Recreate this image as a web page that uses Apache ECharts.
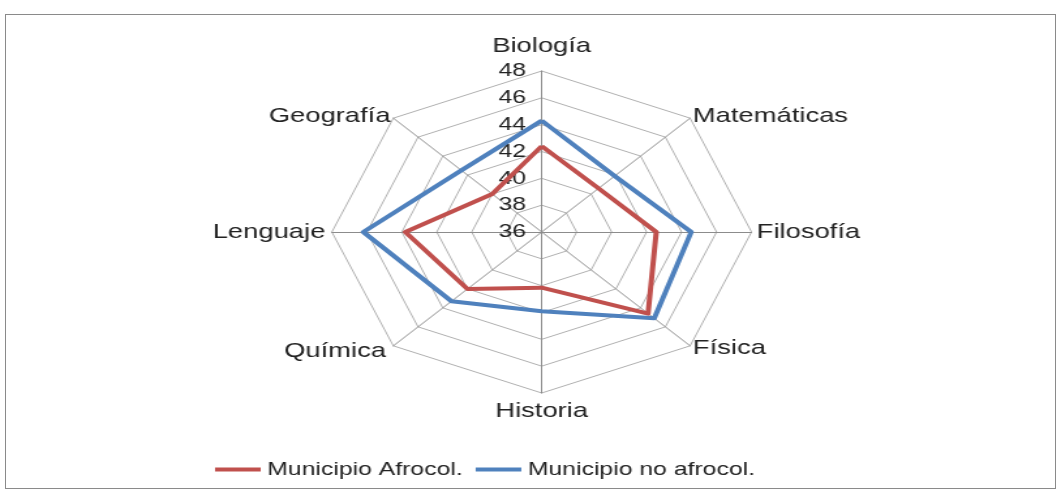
<!DOCTYPE html>
<html><head><meta charset="utf-8">
<script src="https://cdn.jsdelivr.net/npm/echarts@6/dist/echarts.min.js"></script>
<style>
html,body{margin:0;padding:0;background:#fff;}
#wrap{position:relative;width:1061px;height:495px;overflow:hidden;background:#fff;}
#frame{position:absolute;left:5px;top:14px;width:1051px;height:475px;border:1px solid #8a8a8a;box-sizing:border-box;}
#chart{position:absolute;left:0;top:0;width:814px;height:495px;transform:scaleX(1.3034);transform-origin:0 0;}
</style></head><body>
<div id="wrap"><div id="frame"></div><div id="chart"></div></div>
<script>
// Categories in the reference's clockwise order, starting at the top
const categories = ['Biología','Matemáticas','Filosofía','Física','Historia','Química','Lenguaje','Geografía'];
const seriesNames = ['Municipio Afrocol.','Municipio no afrocol.'];
const afrocol   = [42.4, 40.6, 42.55, 44.6, 40.15, 42.0, 43.8, 40.0];
const noAfrocol = [44.3, 41.9, 44.55, 45.1, 41.9, 43.3, 46.2, 42.5];
const tickLabels = ['36','38','40','42','44','46','48'];

// ---- styling / build ----
const axisMin = +tickLabels[0];
const axisMax = +tickLabels[tickLabels.length - 1];
const nameGapMap = {'Biología':14,'Matemáticas':3,'Filosofía':4,'Física':3,'Historia':8,'Química':8,'Lenguaje':5,'Geografía':3};
// ECharts draws radar indicators counter-clockwise; reorder so they appear clockwise
const order = [0].concat(categories.slice(1).map((_, i) => categories.length - 1 - i));
const reorder = arr => order.map(i => arr[i]);

const indicator = reorder(categories).map((name, k) => {
  const o = {name: name, min: axisMin, max: axisMax, nameGap: nameGapMap[name]};
  if (k === 0) {
    o.axisLabel = {show: true, margin: 12, color: '#222', fontSize: 19, fontFamily: 'Liberation Sans',
      formatter: v => tickLabels[Math.round((v - axisMin) / (axisMax - axisMin) * (tickLabels.length - 1))]};
  }
  return o;
});

const chart = echarts.init(document.getElementById('chart'), null, {renderer: 'canvas'});
chart.setOption({
  animation: false,
  backgroundColor: 'transparent',
  color: ['#C0504D', '#4F81BD'],
  legend: {
    data: seriesNames,
    left: 160, top: 455,
    icon: 'rect', itemWidth: 35, itemHeight: 4, itemGap: 10,
    textStyle: {fontSize: 19, color: '#222', fontFamily: 'Liberation Sans'}
  },
  radar: {
    center: [415.6, 232],
    radius: 161,
    startAngle: 90,
    shape: 'polygon',
    splitNumber: tickLabels.length - 1,
    indicator: indicator,
    axisName: {color: '#222', fontSize: 21, fontFamily: 'Liberation Sans'},
    axisLine: {show: true, lineStyle: {color: '#8c8c8c', width: 1}},
    axisTick: {show: false},
    axisLabel: {show: false},
    splitLine: {lineStyle: {color: '#b0b0b0', width: 1}},
    splitArea: {show: false}
  },
  series: [{
    type: 'radar',
    symbol: 'none',
    data: [
      {name: seriesNames[0], value: reorder(afrocol), lineStyle: {width: 4, color: '#C0504D'}, itemStyle: {color: '#C0504D'}},
      {name: seriesNames[1], value: reorder(noAfrocol), lineStyle: {width: 4, color: '#4F81BD'}, itemStyle: {color: '#4F81BD'}}
    ]
  }]
});
</script>
</body></html>
